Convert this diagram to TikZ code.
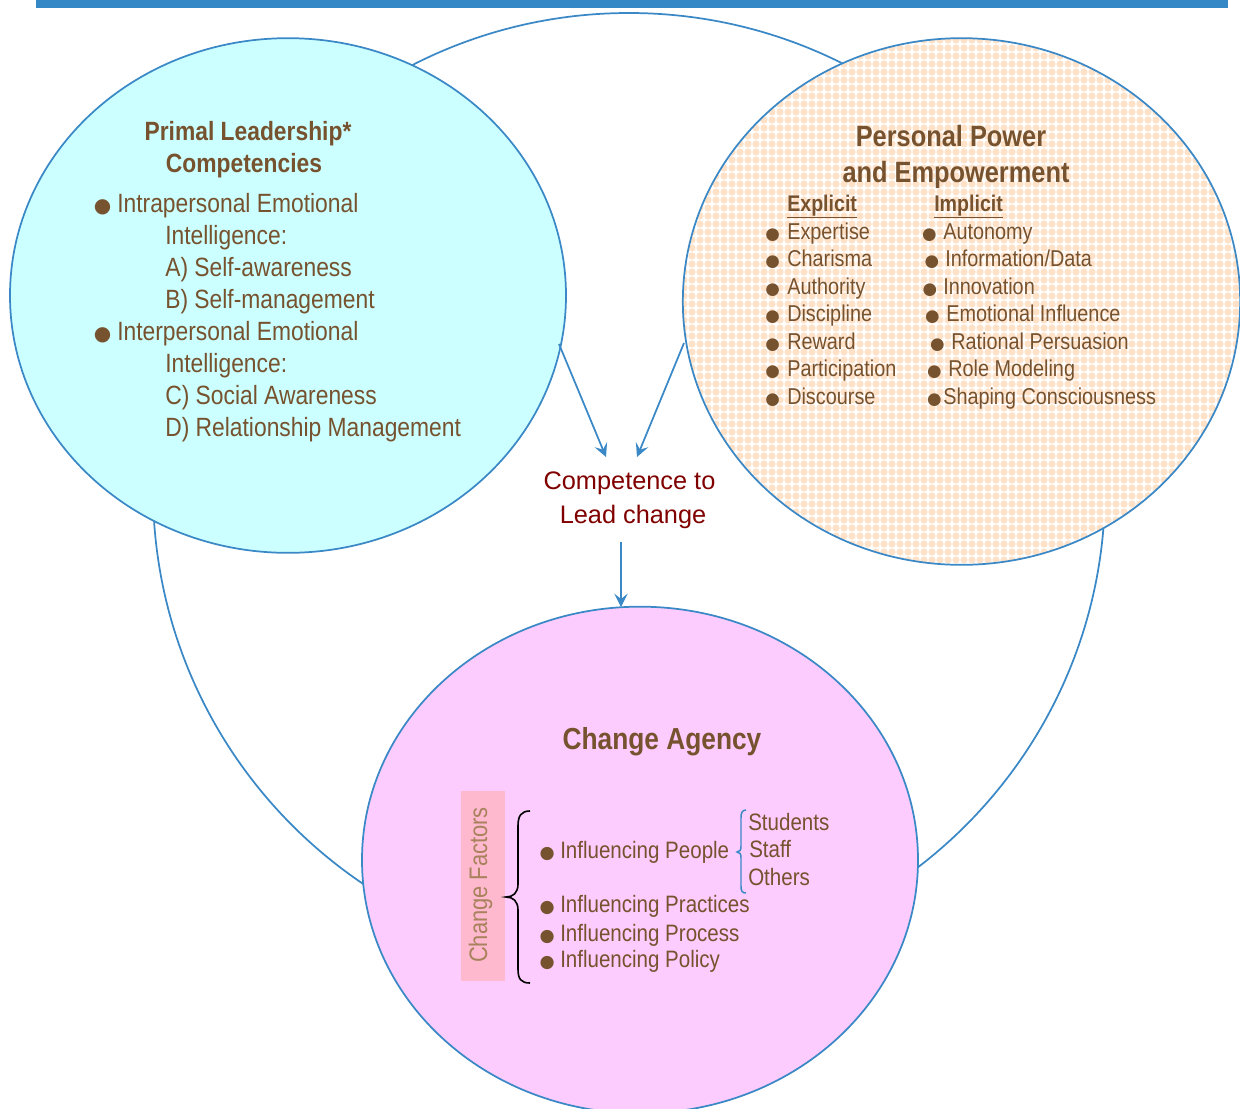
\documentclass[tikz,border=0pt]{standalone}
\usepackage{fontspec}
\setmainfont[FakeStretch=0.865]{Liberation Sans}
\newfontfamily\widefont{Liberation Sans}
\newfontfamily\bulfont{DejaVu Sans}
\usetikzlibrary{shapes.geometric,arrows.meta,patterns}
\definecolor{bluel}{HTML}{3A88C6}
\definecolor{barblue}{HTML}{3588C6}
\definecolor{cyanf}{HTML}{CCFFFF}
\definecolor{pinkf}{HTML}{FDCCFE}
\definecolor{peach}{HTML}{FFE1C8}
\definecolor{brownt}{HTML}{76522E}
\definecolor{darkred}{HTML}{800000}
\definecolor{cfboxc}{HTML}{FFB9CF}
\definecolor{cftext}{HTML}{A8825C}
\pgfdeclarepatternformonly{bubbles}{\pgfqpoint{-1pt}{-1pt}}{\pgfqpoint{7pt}{7pt}}{\pgfqpoint{6pt}{6pt}}{\pgfpathcircle{\pgfqpoint{3pt}{3pt}}{2.7pt}\pgfusepath{fill}}
\newcommand{\bu}[2]{\llap{\makebox[#1][c]{\bulfont\fontsize{#2}{#2}\selectfont ●}}}
\tikzset{
  ring/.style={draw=bluel, line width=1.3pt, inner sep=0},
  lt/.style={anchor=base west, inner sep=0, text=brownt, font=\fontsize{19.8}{23}\selectfont},
  ltitle/.style={anchor=base, inner sep=0, text=brownt, font=\bfseries\fontsize{19.8}{23}\selectfont},
  rtitle/.style={anchor=base, inner sep=0, text=brownt, font=\bfseries\fontsize{22}{26}\selectfont},
  rhead/.style={anchor=base west, inner sep=0, text=brownt, font=\bfseries\fontsize{17}{20}\selectfont},
  ritem/.style={anchor=base west, inner sep=0, text=brownt, font=\fontsize{17.2}{20}\selectfont},
  bitem/.style={anchor=base west, inner sep=0, text=brownt, font=\fontsize{17.8}{20}\selectfont},
  comp/.style={anchor=base, inner sep=0, text=darkred, font=\widefont\fontsize{19}{23}\selectfont},
  arr/.style={draw=bluel, line width=1.3pt, -{Stealth[length=10pt,width=10pt,inset=4pt]}}
}
\begin{document}
\begin{tikzpicture}[x=0.75pt, y=-0.75pt]
\useasboundingbox (0,0) rectangle (1240,1108);
\fill[barblue] (36,0) rectangle (1228,8);
% big background circle
\node (big) [ring, circle, minimum size=714pt] at (629,489) {};
% three circles
\node (left) [ring, ellipse, fill=cyanf, minimum width=417pt, minimum height=386pt] at (288,295.5) {};
\node (right) [ring, ellipse, preaction={fill=white}, pattern=bubbles, pattern color=peach, minimum width=418pt, minimum height=395pt] at (961.5,301.5) {};
\node (agency) [ring, ellipse, fill=pinkf, minimum width=417pt, minimum height=380pt] at (640,860) {};

% left circle text
\node (l1) [ltitle] at (248,140) {Primal Leadership*};
\node (l2) [ltitle] at (244,172) {Competencies};
\node (l3) [lt] at (117,212) {\bu{22pt}{15}Intrapersonal Emotional};
\node (l4) [lt] at (165,244.5) {Intelligence:};
\node (l5) [lt] at (165,276.7) {A) Self-awareness};
\node (l6) [lt] at (165,308.5) {B) Self-management};
\node (l7) [lt] at (117,340.7) {\bu{22pt}{15}Interpersonal Emotional};
\node (l8) [lt] at (165,372.5) {Intelligence:};
\node (l9) [lt] at (165,404.3) {C) Social Awareness};
\node (l10) [lt] at (165,436.5) {D) Relationship Management};

% right circle text
\node (r1) [rtitle] at (951,146) {Personal Power};
\node (r2) [rtitle] at (956,182) {and Empowerment};
\node (ex) [rhead] at (787,211) {\underline{Explicit}};
\node (im) [rhead] at (934,211) {\underline{Implicit}};
\node (e1) [ritem] at (787,239.3) {\bu{22pt}{12.5}Expertise};
\node (e2) [ritem] at (787,266.8) {\bu{22pt}{12.5}Charisma};
\node (e3) [ritem] at (787,294.3) {\bu{22pt}{12.5}Authority};
\node (e4) [ritem] at (787,321.8) {\bu{22pt}{12.5}Discipline};
\node (e5) [ritem] at (787,349.3) {\bu{22pt}{12.5}Reward};
\node (e6) [ritem] at (787,376.8) {\bu{22pt}{12.5}Participation};
\node (e7) [ritem] at (787,404.3) {\bu{22pt}{12.5}Discourse};
\node (i1) [ritem] at (943,239.3) {\bu{21pt}{12.5}Autonomy};
\node (i2) [ritem] at (945,266.8) {\bu{20pt}{12.5}Information/Data};
\node (i3) [ritem] at (943,294.3) {\bu{20pt}{12.5}Innovation};
\node (i4) [ritem] at (946,321.8) {\bu{21pt}{12.5}Emotional Influence};
\node (i5) [ritem] at (951,349.3) {\bu{21pt}{12.5}Rational Persuasion};
\node (i6) [ritem] at (948,376.8) {\bu{21pt}{12.5}Role Modeling};
\node (i7) [ritem] at (943,404.3) {\bu{13.5pt}{12.5}Shaping Consciousness};

% competence
\node (c1) [comp] at (629.5,489) {Competence to};
\node (c2) [comp] at (633,523) {Lead change};

% arrows
\coordinate (a1s) at (559,344);
\coordinate (a1e) at (606,457);
\coordinate (a2s) at (684,343);
\coordinate (a2e) at (637,457);
\coordinate (a3s) at (621,542);
\coordinate (a3e) at (621,607);
\draw[arr] (a1s) -- (a1e);
\draw[arr] (a2s) -- (a2e);
\draw[arr] (a3s) -- (a3e);

% bottom circle text
\node (ag) [rtitle, font=\bfseries\fontsize{22.8}{26}\selectfont] at (662,749) {Change Agency};
\node (cfbox) [fill=cfboxc, minimum width=33pt, minimum height=142.5pt, inner sep=0] at (483,886) {};
\node (cf) [rotate=90, anchor=base, inner sep=0, text=cftext, font=\fontsize{19}{20}\selectfont] at (487,885) {Change Factors};
\node (b1) [bitem] at (560,858) {\bu{19.5pt}{13}Influencing People};
\node (b2) [bitem] at (560,912.7) {\bu{19.5pt}{13}Influencing Practices};
\node (b3) [bitem] at (560,941) {\bu{19.5pt}{13}Influencing Process};
\node (b4) [bitem] at (560,967.7) {\bu{19.5pt}{13}Influencing Policy};
\node (s1) [bitem] at (748,830) {Students};
\node (s2) [bitem] at (749,857.7) {Staff};
\node (s3) [bitem] at (748,885.5) {Others};
% braces
\draw[black, line width=1.2pt] (530,811) .. controls (521,811) and (518,816) .. (518,826) -- (518,884) .. controls (518,893) and (513,897) .. (506,897) .. controls (513,897) and (518,901) .. (518,910) -- (518,969) .. controls (518,979) and (521,983) .. (530,983);
\draw[bluel, line width=1.1pt] (746,810) .. controls (742,810) and (741,813) .. (741,818) -- (741,846) .. controls (741,850) and (740,852) .. (737,852) .. controls (740,852) and (741,854) .. (741,858) -- (741,886) .. controls (741,891) and (742,893) .. (746,893);
\end{tikzpicture}
\end{document}
